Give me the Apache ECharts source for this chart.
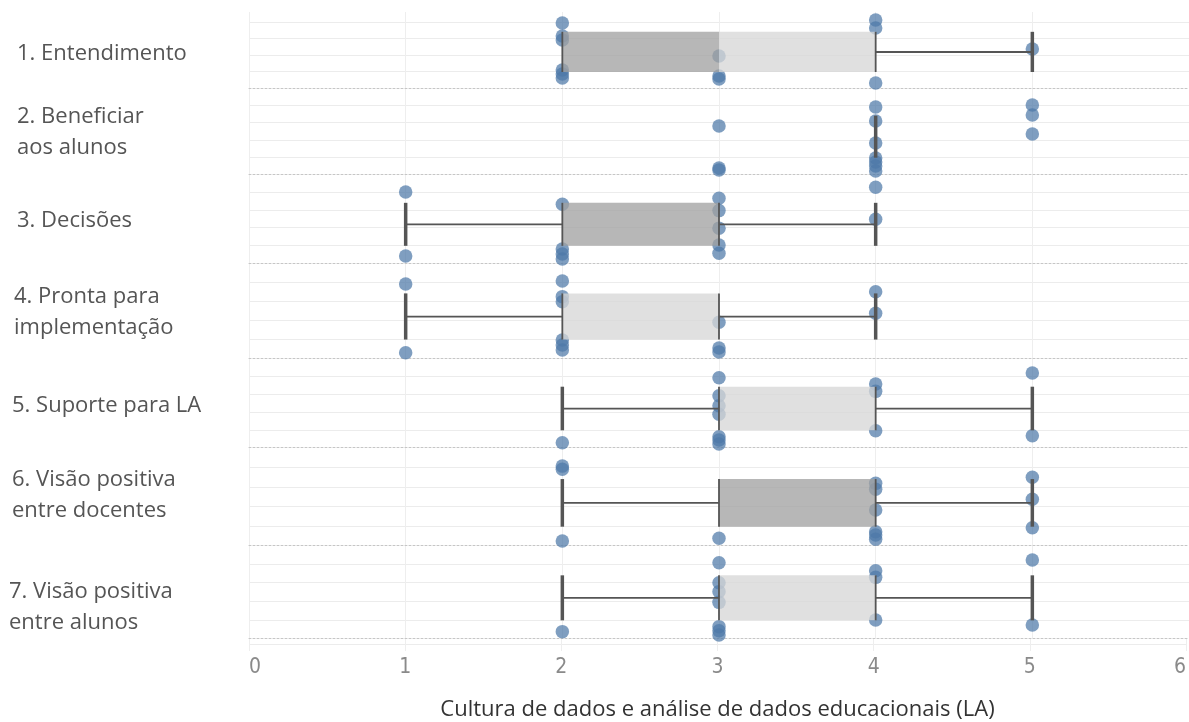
<!DOCTYPE html>
<html>
<head>
<meta charset="utf-8">
<script src="https://cdn.jsdelivr.net/npm/echarts@6/dist/echarts.min.js"></script>
<style>
  html, body { margin: 0; padding: 0; background: #ffffff; }
  #chart { width: 1189px; height: 722px; }
</style>
</head>
<body>
<div id="chart"></div>
<script>
// Survey items (one row each)
const categories = [
  '1. Entendimento',
  '2. Beneficiar\naos alunos',
  '3. Decisões',
  '4. Pronta para\nimplementação',
  '5. Suporte para LA',
  '6. Visão positiva\nentre docentes',
  '7. Visão positiva\nentre alunos'
];

// Box-plot statistics per item
const whiskerLow  = [2, 4, 1, 1, 2, 2, 2];
const quartile1   = [2, 4, 2, 2, 3, 3, 3];
const median      = [3, 4, 3, 2, 3, 4, 3];
const quartile3   = [4, 4, 3, 3, 4, 4, 4];
const whiskerHigh = [5, 4, 4, 4, 5, 5, 5];

// Individual answers per item: [score, vertical jitter within the row]
const responses1 = [[2,3.93],[2,3.15],[2,2.91],[2,1.09],[2,0.85],[2,0.61],[3,1.94],[3,0.73],[3,0.54],[4,4.12],[4,3.63],[4,0.30],[5,2.36]];
const responses2 = [[3,2.80],[3,0.38],[3,0.26],[4,3.90],[4,3.09],[4,1.82],[4,0.95],[4,0.72],[4,0.49],[4,0.20],[5,4.02],[5,3.44],[5,2.34]];
const responses3 = [[1,4.01],[1,0.40],[2,3.32],[2,0.79],[2,0.51],[2,0.23],[3,3.66],[3,2.96],[3,1.97],[3,1.02],[3,0.55],[4,4.28],[4,2.47]];
const responses4 = [[1,3.89],[1,0.28],[2,4.05],[2,3.23],[2,2.96],[2,0.95],[2,0.68],[2,0.42],[3,1.88],[3,0.53],[3,0.32],[4,3.49],[4,2.35]];
const responses5 = [[2,0.28],[3,3.90],[3,2.90],[3,2.34],[3,1.86],[3,0.61],[3,0.43],[3,0.21],[4,3.55],[4,3.14],[4,0.95],[5,4.16],[5,0.67]];
const responses6 = [[2,4.06],[2,3.90],[2,0.24],[3,0.38],[4,3.18],[4,2.88],[4,1.82],[4,0.71],[4,0.55],[4,0.33],[5,3.49],[5,2.37],[5,0.92]];
const responses7 = [[2,0.36],[3,4.08],[3,3.00],[3,2.52],[3,1.94],[3,0.63],[3,0.41],[3,0.18],[4,3.65],[4,3.29],[4,0.99],[5,4.23],[5,0.72]];
const responses = [responses1, responses2, responses3, responses4, responses5, responses6, responses7];

const axisTitle = 'Cultura de dados e análise de dados educacionais (LA)';

// Row layout (pixel edges of the seven panes) and row-header placement
const rowEdges = [12, 88, 174.5, 263, 358, 447.7, 545.7, 638.3];
const labelLeft = [17, 17, 17, 14, 12, 12, 9];
const labelCenterY = [54, 132.5, 220.5, 312, 406, 495, 607];
const PLOT_LEFT = 249;

// Vertical extent of each box (in the row's jitter units)
const BOX_BOTTOM = 0.97;
const BOX_TOP = 3.40;
const BOX_MID = 2.18;

const WHISKER_COLOR = '#555555';

function renderBox(params, api) {
  const xs = [0, 1, 2, 3, 4].map(k => api.coord([api.value(k), BOX_MID])[0]);
  const [xLow, xQ1, xMed, xQ3, xHigh] = xs;
  const yTop = api.coord([0, BOX_TOP])[1];
  const yBot = api.coord([0, BOX_BOTTOM])[1];
  const yMid = api.coord([0, BOX_MID])[1];
  const children = [];
  if (xMed > xQ1) {
    children.push({ type: 'rect', shape: { x: xQ1, y: yTop, width: xMed - xQ1, height: yBot - yTop },
      style: { fill: 'rgba(160,160,160,0.76)' } });
  }
  if (xQ3 > xMed) {
    children.push({ type: 'rect', shape: { x: xMed, y: yTop, width: xQ3 - xMed, height: yBot - yTop },
      style: { fill: 'rgba(214,214,214,0.76)' } });
  }
  const vline = (x, w) => ({ type: 'line', shape: { x1: x, y1: yTop, x2: x, y2: yBot },
    style: { stroke: WHISKER_COLOR, lineWidth: w } });
  const hline = (a, b) => ({ type: 'line', shape: { x1: a, y1: yMid, x2: b, y2: yMid },
    style: { stroke: WHISKER_COLOR, lineWidth: 1.8 } });
  const degenerate = xQ3 - xQ1 < 0.5;
  if (!degenerate) {
    children.push(vline(xQ1, 1.8));
    children.push(vline(xQ3, 1.8));
  }
  if (xQ1 - xLow > 0.5) children.push(hline(xLow, xQ1));
  if (xHigh - xQ3 > 0.5) children.push(hline(xQ3, xHigh));
  if (xQ1 - xLow > 0.5 || degenerate) children.push(vline(xLow, 3.5));
  if (xHigh - xQ3 > 0.5) children.push(vline(xHigh, 3.5));
  return { type: 'group', children };
}

const grids = [], xAxes = [], yAxes = [], series = [], headers = [];

categories.forEach((name, i) => {
  const top = rowEdges[i];
  const height = rowEdges[i + 1] - rowEdges[i];
  grids.push({ left: PLOT_LEFT, right: 0, top, height });
  xAxes.push({
    gridIndex: i, type: 'value', min: 0, max: 6, interval: 1,
    axisLabel: { show: false }, axisTick: { show: false },
    axisLine: { show: true, onZero: false, lineStyle: { color: '#c6c6c6', width: 1, type: [2, 2] } },
    splitLine: { show: true, lineStyle: { color: '#eeeeee', width: 1 } }
  });
  yAxes.push({
    gridIndex: i, type: 'value', min: 0, max: i === 0 ? 4.6 : 5, interval: 1,
    axisLabel: { show: false }, axisTick: { show: false }, axisLine: { show: false },
    splitLine: { show: true, showMinLine: false, showMaxLine: false, lineStyle: { color: '#ececec', width: 1 } }
  });
  series.push({
    type: 'scatter', xAxisIndex: i, yAxisIndex: i, silent: true, z: 2,
    symbol: 'circle', symbolSize: 13.5,
    itemStyle: { color: '#4e79a7', opacity: 0.72 },
    data: responses[i]
  });
  series.push({
    type: 'custom', xAxisIndex: i, yAxisIndex: i, silent: true, z: 3,
    renderItem: renderBox,
    encode: { x: [0, 1, 2, 3, 4], y: 5 },
    data: [[whiskerLow[i], quartile1[i], median[i], quartile3[i], whiskerHigh[i], BOX_MID]]
  });
  // Row header text
  headers.push({
    type: 'text', x: labelLeft[i], y: labelCenterY[i], silent: true,
    style: {
      text: name, align: 'left', verticalAlign: 'middle',
      font: '22px "Open Sans"', fill: '#555555', lineHeight: 31
    }
  });
});

// Axis pane under the rows: tick labels and axis title
const axisIdx = categories.length;
grids.push({ left: PLOT_LEFT, right: 0, top: rowEdges[rowEdges.length - 1], height: 14 });
xAxes.push({
  gridIndex: axisIdx, type: 'value', min: 0, max: 6, interval: 1, position: 'bottom',
  axisLine: { show: false }, axisTick: { show: false },
  splitLine: { show: true, lineStyle: { color: '#eeeeee', width: 1 } },
  axisLabel: {
    show: true, margin: 6, alignMinLabel: 'left', alignMaxLabel: 'right',
    fontFamily: 'DejaVu Sans Condensed', fontSize: 21, color: '#8a8a8a'
  },
  name: axisTitle, nameLocation: 'middle', nameGap: 48,
  nameTextStyle: { fontFamily: 'Open Sans', fontSize: 22, color: '#333333' }
});
yAxes.push({
  gridIndex: axisIdx, type: 'value', min: 0, max: 1, interval: 0.5,
  axisLabel: { show: false }, axisTick: { show: false }, axisLine: { show: false },
  splitLine: { show: true, showMinLine: false, showMaxLine: false, lineStyle: { color: '#ececec', width: 1 } }
});

const chart = echarts.init(document.getElementById('chart'), null, { renderer: 'canvas' });
chart.setOption({
  animation: false,
  backgroundColor: '#ffffff',
  grid: grids,
  xAxis: xAxes,
  yAxis: yAxes,
  series,
  graphic: headers
});
</script>
</body>
</html>
